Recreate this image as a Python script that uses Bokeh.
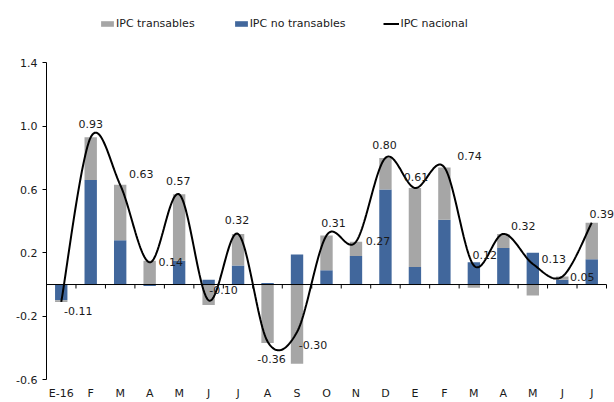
import numpy as np
from bokeh.plotting import figure
from bokeh.models import (Range1d, FixedTicker, LinearAxis, Legend, LegendItem,
                          ColumnDataSource, NumeralTickFormatter)
from bokeh.core.properties import value
from bokeh.embed import file_html
from bokeh.resources import INLINE

# ---- data ----
categories = ["E-16", "F", "M", "A", "M", "J", "J", "A", "S", "O", "N", "D",
              "E", "F", "M", "A", "M", "J", "J"]
ipc_no_transables = [-0.10, 0.66, 0.28, -0.01, 0.15, 0.03, 0.12, 0.01, 0.19, 0.09,
                     0.18, 0.60, 0.11, 0.41, 0.14, 0.23, 0.20, 0.03, 0.16]
ipc_transables = [-0.01, 0.27, 0.35, 0.15, 0.42, -0.13, 0.20, -0.37, -0.50, 0.22,
                  0.09, 0.20, 0.50, 0.33, -0.02, 0.09, -0.07, 0.02, 0.23]
ipc_nacional = [-0.11, 0.93, 0.63, 0.14, 0.57, -0.10, 0.32, -0.36, -0.30, 0.31,
                0.27, 0.80, 0.61, 0.74, 0.12, 0.32, 0.13, 0.05, 0.39]
y_ticks = [-0.6, -0.2, 0.2, 0.6, 1.0, 1.4]

# label offsets (screen px, styling only)
lab_dx = [17, 0, 21, 21, -1, 15, -1, 4, 16, 7, 22, -1, 1, 25, 11, 20, 21, 20, 10]
lab_dy = [9, -13, -11, 0, -13, -10, -14, 17, 13, -12, -1, -13, -11, -11, -11, -8, -5, 0, -9]

FONT = value("DejaVu Sans")
GRAY = "#A6A6A6"
BLUE = "#41679C"
TXT = "#1a1a1a"

n = len(categories)
xs = np.arange(n, dtype=float)

# stacked bars with separate positive/negative stacking
pos = np.zeros(n)
neg = np.zeros(n)
stacks = {}
for name, vals in [("blue", ipc_no_transables), ("gray", ipc_transables)]:
    v = np.array(vals)
    bottom = np.where(v >= 0, pos, neg + v)
    top = np.where(v >= 0, pos + v, neg)
    pos = np.where(v >= 0, pos + v, pos)
    neg = np.where(v < 0, neg + v, neg)
    stacks[name] = (bottom, top)

Y_MIN, Y_MAX = -0.6, 1.4
PX_PER_UNIT = 160.0
TOP_PAD_PX = 53        # room above the axis top for the legend (inside the frame)
PX_PER_CAT = 560.0 / n
RIGHT_PAD_PX = 8       # room right of the last category for its label

p = figure(width=614, height=402, output_backend="svg", toolbar_location=None,
           x_range=Range1d(-0.5, n - 0.5 + RIGHT_PAD_PX / PX_PER_CAT),
           y_range=Range1d(Y_MIN, Y_MAX + TOP_PAD_PX / PX_PER_UNIT),
           min_border_left=46, min_border_right=0, min_border_top=10,
           min_border_bottom=20, x_axis_location=None, y_axis_location=None)
p.outline_line_color = None
p.xgrid.visible = False
p.ygrid.visible = False
p.background_fill_color = "white"
p.border_fill_color = "white"

r_blue = p.vbar(x=xs, bottom=stacks["blue"][0], top=stacks["blue"][1], width=0.42,
                fill_color=BLUE, line_color=None)
r_gray = p.vbar(x=xs, bottom=stacks["gray"][0], top=stacks["gray"][1], width=0.42,
                fill_color=GRAY, line_color=None)

# zero line with boundary ticks
bounds = np.arange(n + 1) - 0.5
p.segment(x0=[bounds[0]], x1=[bounds[-1]], y0=[0], y1=[0], line_color="black",
          line_width=1)
p.segment(x0=bounds, x1=bounds, y0=np.zeros(n + 1),
          y1=np.full(n + 1, -4 / PX_PER_UNIT), line_color="black", line_width=1)

# smoothed line (Excel-like bezier rendering of the series)
yv = np.array(ipc_nacional)
P = np.column_stack([xs, yv])
ext = np.vstack([P[0], P, P[-1]])
cx, cy = [], []
t = np.linspace(0, 1, 30)
for i in range(n - 1):
    p0 = ext[i + 1]
    p3 = ext[i + 2]
    p1 = p0 + (ext[i + 2] - ext[i]) / 6.0
    p2 = p3 - (ext[i + 3] - ext[i + 1]) / 6.0
    b = ((1 - t) ** 3)[:, None] * p0 + (3 * (1 - t) ** 2 * t)[:, None] * p1 + \
        (3 * (1 - t) * t ** 2)[:, None] * p2 + (t ** 3)[:, None] * p3
    cx.extend(b[:, 0]); cy.extend(b[:, 1])
r_line = p.line(cx, cy, line_color="black", line_width=2)

# data labels
src = ColumnDataSource(dict(x=xs, y=yv, t=[f"{v:.2f}" for v in ipc_nacional],
                            dx=lab_dx, dy=lab_dy))
p.text(x="x", y="y", text="t", x_offset="dx", y_offset="dy", source=src,
       text_align="center", text_baseline="middle", text_font=FONT,
       text_font_size="11px", text_color=TXT)

# y axis
yax = LinearAxis(ticker=FixedTicker(ticks=y_ticks),
                 formatter=NumeralTickFormatter(format="0.0"),
                 bounds=(Y_MIN, Y_MAX))
yax.axis_line_color = "black"
yax.major_tick_line_color = "black"
yax.major_tick_out = 4
yax.major_tick_in = 0
yax.minor_tick_line_color = None
yax.major_label_standoff = 5
yax.major_label_text_font = "DejaVu Sans"
yax.major_label_text_font_size = "11px"
yax.major_label_text_color = TXT
p.add_layout(yax, "left")

# bottom category labels
xax = LinearAxis(ticker=FixedTicker(ticks=list(range(n))),
                 major_label_overrides={i: c for i, c in enumerate(categories)})
xax.axis_line_color = None
xax.major_tick_line_color = None
xax.minor_tick_line_color = None
xax.major_tick_out = 0
xax.major_tick_in = 0
xax.major_label_standoff = 7
xax.major_label_text_font = "DejaVu Sans"
xax.major_label_text_font_size = "11px"
xax.major_label_text_color = TXT
p.add_layout(xax, "below")

legend = Legend(items=[LegendItem(label="IPC transables", renderers=[r_gray]),
                       LegendItem(label="IPC no transables", renderers=[r_blue]),
                       LegendItem(label="IPC nacional", renderers=[r_line])],
                orientation="horizontal", location=(53, 349),
                glyph_width=16, glyph_height=7, label_height=12,
                label_standoff=1, spacing=38, padding=0, margin=0,
                border_line_color=None, background_fill_alpha=0,
                label_text_font="DejaVu Sans", label_text_font_size="11px",
                label_text_color=TXT)
p.add_layout(legend, "center")

open("out.html", "w").write(file_html(p, INLINE))
